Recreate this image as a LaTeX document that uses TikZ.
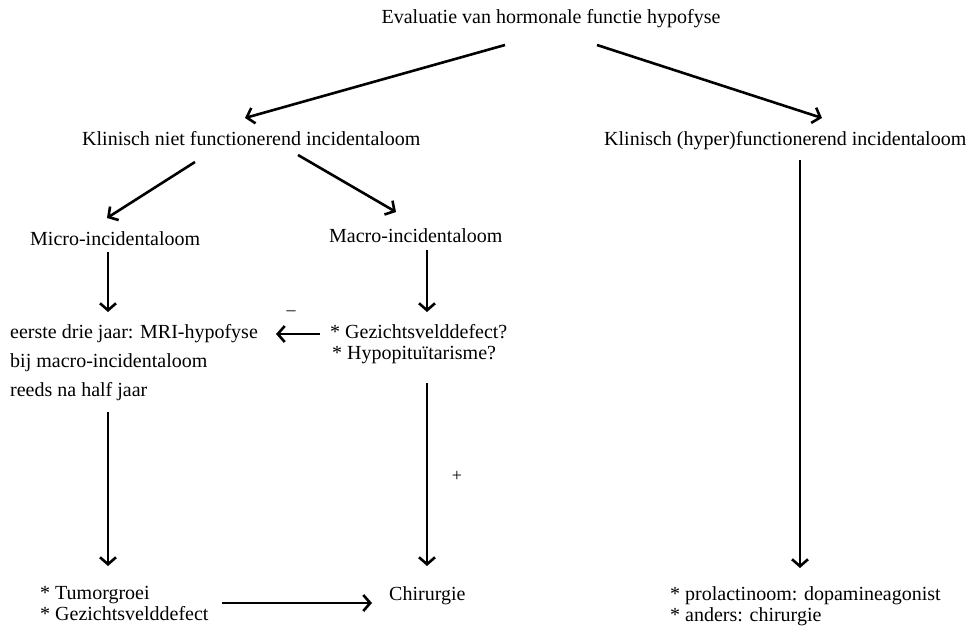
\documentclass[tikz,border=0pt]{standalone}
\usepackage{fontspec}
\setmainfont{Liberation Serif}
\usetikzlibrary{arrows.meta}
\begin{document}
\begin{tikzpicture}[x=1pt,y=-1pt,
  txt/.style={inner sep=0pt, font=\fontsize{20}{21}\selectfont, text=black},
  arr/.style={line width=2.6pt, -{Straight Barb[length=7pt,width=16pt,line width=2.6pt]}}]
\useasboundingbox (0,0) rectangle (972,628);
% texts
\node[txt, anchor=base] (title) at (551,24) {Evaluatie van hormonale functie hypofyse};
\node[txt, anchor=base west] (kn) at (82,146) {Klinisch niet functionerend incidentaloom};
\node[txt, anchor=base west] (kh) at (604,146) {Klinisch (hyper)functionerend incidentaloom};
\node[txt, anchor=base west] (micro) at (30,246) {Micro-incidentaloom};
\node[txt, anchor=base west] (macro) at (329,243) {Macro-incidentaloom};
\node[txt, anchor=north west, align=left, font=\fontsize{20}{29}\selectfont] (mri) at (10,324) {eerste drie jaar: MRI-hypofyse\\bij macro-incidentaloom\\reeds na half jaar};
\node[txt, anchor=north west, align=left] (gez) at (330,324) {* Gezichtsvelddefect?\\\hspace{2pt}* Hypopituïtarisme?};
\node[txt, font=\fontsize{18}{20}\selectfont] (minus) at (291,313) {–};
\node[txt, font=\fontsize{18}{20}\selectfont] (plus) at (457,476) {+};
\node[txt, anchor=north west, align=left] (tum) at (40,586) {* Tumorgroei\\* Gezichtsvelddefect};
\node[txt, anchor=base west] (chir) at (389,600) {Chirurgie};
\node[txt, anchor=north west, align=left] (prol) at (670,586) {* prolactinoom: dopamineagonist\\* anders: chirurgie};
% connector end points
\coordinate (t1) at (505,45); \coordinate (h1) at (245,118);
\coordinate (t2) at (597,45); \coordinate (h2) at (822,118);
\coordinate (t3) at (195,162); \coordinate (h3) at (107,218);
\coordinate (t4) at (298,155); \coordinate (h4) at (396,212);
\coordinate (t5) at (108,252); \coordinate (h5) at (108,312);
\coordinate (t6) at (427,250); \coordinate (h6) at (427,312);
\coordinate (t7) at (320,334); \coordinate (h7) at (276,334);
\coordinate (t8) at (800,160); \coordinate (h8) at (800,568);
\coordinate (t9) at (108,412); \coordinate (h9) at (108,566);
\coordinate (t10) at (427,383); \coordinate (h10) at (427,566);
\coordinate (t11) at (222,603); \coordinate (h11) at (372,603);
\draw[arr] (t1) -- (h1);
\draw[arr] (t2) -- (h2);
\draw[arr] (t3) -- (h3);
\draw[arr] (t4) -- (h4);
\draw[arr] (t5) -- (h5);
\draw[arr] (t6) -- (h6);
\draw[arr] (t7) -- (h7);
\draw[arr] (t8) -- (h8);
\draw[arr] (t9) -- (h9);
\draw[arr] (t10) -- (h10);
\draw[arr] (t11) -- (h11);
\end{tikzpicture}
\end{document}
